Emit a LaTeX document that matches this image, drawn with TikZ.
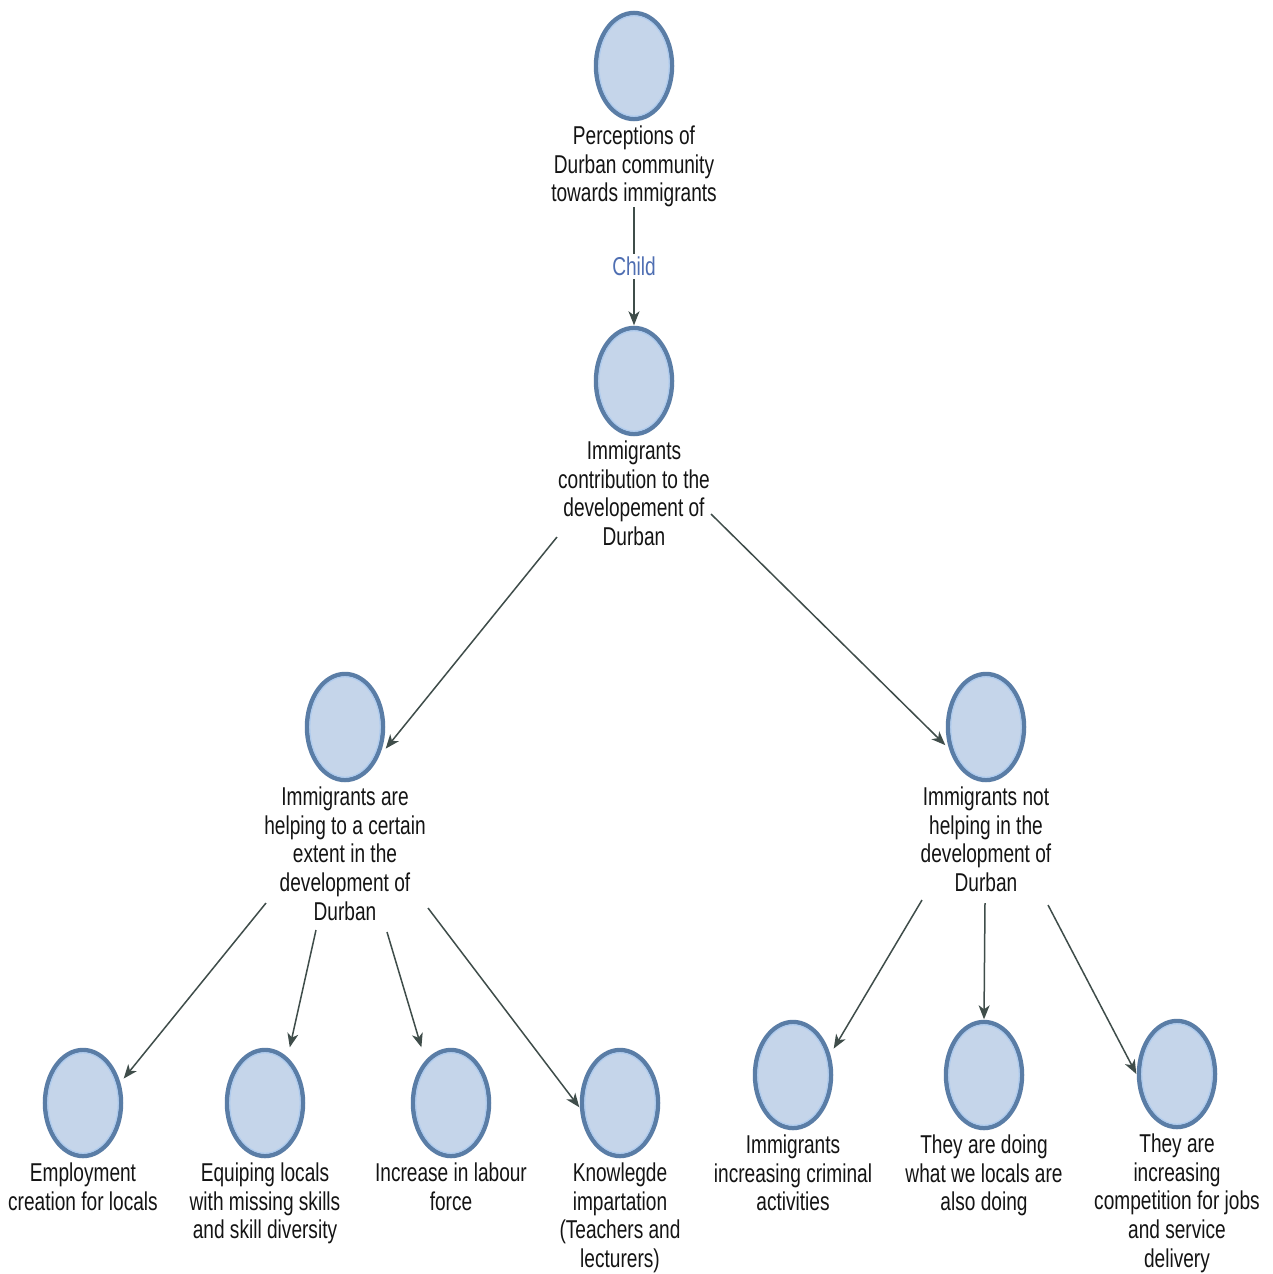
\documentclass[tikz,border=0pt]{standalone}
\usepackage{fontspec}
\setmainfont{Liberation Sans}[FakeStretch=0.74]
\usetikzlibrary{arrows.meta}
\definecolor{nodeedge}{HTML}{5A7DA6}
\definecolor{nodefill}{HTML}{C5D5EA}
\definecolor{nodeinner}{HTML}{AECBEE}
\definecolor{linecol}{HTML}{3F4D4A}
\definecolor{txtcol}{HTML}{141414}
\definecolor{childcol}{HTML}{4E6EB2}
\begin{document}
\begin{tikzpicture}[x=1pt,y=-1pt,
  bub/.style={shape=rectangle, minimum width=81pt, minimum height=111pt, inner sep=0pt, draw=none,
    path picture={
      \draw[line width=4.5pt, draw=nodeedge, fill=nodefill] (path picture bounding box.center) ellipse [x radius=38pt, y radius=53pt];
      \draw[line width=1.2pt, draw=nodeinner] (path picture bounding box.center) ellipse [x radius=35.2pt, y radius=50.2pt];}},
  lab/.style={anchor=north, align=center, inner sep=0pt, text=txtcol, font=\fontsize{25.8}{28.6}\selectfont},
  arr/.style={draw=linecol, line width=1.5pt, -{Stealth[length=14pt,width=11pt,inset=4pt]}},
  childlab/.style={fill=white, inner sep=3pt, text=childcol, font=\fontsize{25.8}{28.6}\selectfont},
]
\useasboundingbox[fill=white] (0,0) rectangle (1272,1274);

% nodes
\node[bub] (P) at (634,66) {};
\node[lab] (Pl) at ([yshift=-4pt]P.south) {Perceptions of\\Durban community\\towards immigrants};

\node[bub] (I) at (634,381) {};
\node[lab] (Il) at ([yshift=-4pt]I.south) {Immigrants\\contribution to the\\developement of\\Durban};

\node[bub] (H) at (345,727) {};
\node[lab] (Hl) at ([yshift=-4pt]H.south) {Immigrants are\\helping to a certain\\extent in the\\development of\\Durban};

\node[bub] (N) at (986,727) {};
\node[lab] (Nl) at ([yshift=-4pt]N.south) {Immigrants not\\helping in the\\development of\\Durban};

\node[bub] (E) at (83,1103) {};
\node[lab] (El) at ([yshift=-4pt]E.south) {Employment\\creation for locals};

\node[bub] (Q) at (265,1103) {};
\node[lab] (Ql) at ([yshift=-4pt]Q.south) {Equiping locals\\with missing skills\\and skill diversity};

\node[bub] (L) at (451,1103) {};
\node[lab] (Ll) at ([yshift=-4pt]L.south) {Increase in labour\\force};

\node[bub] (K) at (620,1103) {};
\node[lab] (Kl) at ([yshift=-4pt]K.south) {Knowlegde\\impartation\\(Teachers and\\lecturers)};

\node[bub] (C) at (793,1075) {};
\node[lab] (Cl) at ([yshift=-4pt]C.south) {Immigrants\\increasing criminal\\activities};

\node[bub] (T) at (984,1075) {};
\node[lab] (Tl) at ([yshift=-4pt]T.south) {They are doing\\what we locals are\\also doing};

\node[bub] (Co) at (1177,1074) {};
\node[lab] (Col) at ([yshift=-4pt]Co.south) {They are\\increasing\\competition for jobs\\and service\\delivery};

% connector start points (below the labels)
\coordinate (s1) at (557,537);
\coordinate (s2) at (711,514);
\coordinate (s3) at (266,903);
\coordinate (s4) at (316,930);
\coordinate (s5) at (387,932);
\coordinate (s6) at (428,908);
\coordinate (s7) at (922,900);
\coordinate (s8) at (985,903);
\coordinate (s9) at (1048,905);

% connectors
\draw[arr] (Pl) -- node[childlab] (ch) {Child} (I);
\draw[arr] (s1) -- (H.-28);
\draw[arr] (s2) -- (N.204);
\draw[arr] (s3) -- (E.31);
\draw[arr] (s4) -- (Q.66);
\draw[arr] (s5) -- (L.118);
\draw[arr] (s6) -- (K.186);
\draw[arr] (s7) -- (C.33);
\draw[arr] (s8) -- (T.north);
\draw[arr] (s9) -- (Co.180);
\end{tikzpicture}
\end{document}
